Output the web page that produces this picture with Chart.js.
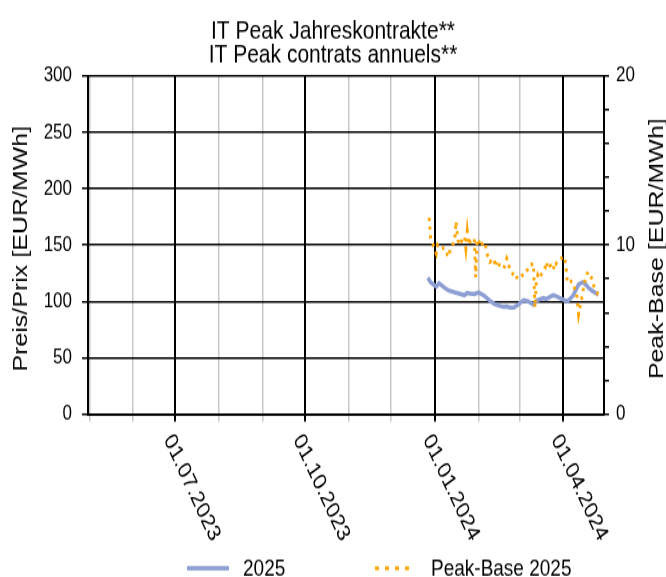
<!DOCTYPE html>
<html>
<head>
<meta charset="utf-8">
<script src="https://cdn.jsdelivr.net/npm/chart.js"></script>
<style>
  html, body { margin: 0; background: #fff; width: 666px; height: 577px; }
  #page { width: 666px; height: 577px; position: relative; }
  /* the reference is stretched vertically, so the chart is drawn at 666x462 and scaled */
  #chartContainer { position: absolute; left: 0; top: 0; width: 666px; height: 462px; transform: scaleY(1.2489); transform-origin: 0 0; }
</style>
</head>
<body>
<div id="page"><div id="chartContainer"><canvas id="myChart"></canvas></div></div>
<script>
const FONT = '"Liberation Sans", Arial, sans-serif';

const chartTitle = ['IT Peak Jahreskontrakte**', 'IT Peak contrats annuels**'];
const yTitleLeft = 'Preis/Prix [EUR/MWh]';
const yTitleRight = 'Peak-Base [EUR/MWh]';

// x axis range and monthly ticks
const xMin = '2023-04-30';
const xMax = '2024-04-30';
const xTickDates = ['2023-05-01','2023-06-01','2023-07-01','2023-08-01','2023-09-01','2023-10-01',
  '2023-11-01','2023-12-01','2024-01-01','2024-02-01','2024-03-01','2024-04-01'];
const xTickLabels = ['01.07.2023', '01.10.2023', '01.01.2024', '01.04.2024'];

// series "2025" (left axis)
const priceDates = ['2023-12-27','2023-12-29','2024-01-02','2024-01-04','2024-01-08','2024-01-11','2024-01-15',
  '2024-01-18','2024-01-22','2024-01-24','2024-01-26','2024-01-29','2024-02-01','2024-02-05','2024-02-07',
  '2024-02-09','2024-02-12','2024-02-14','2024-02-16','2024-02-19','2024-02-21','2024-02-23','2024-02-26',
  '2024-02-29','2024-03-04','2024-03-07','2024-03-11','2024-03-13','2024-03-15','2024-03-18','2024-03-20',
  '2024-03-22','2024-03-25','2024-03-27','2024-04-02','2024-04-04','2024-04-08','2024-04-10','2024-04-12',
  '2024-04-15','2024-04-17','2024-04-19','2024-04-22','2024-04-24','2024-04-26'];
const price2025 = [121, 117, 113, 116, 112, 109.5, 108,
  107, 105.5, 107.5, 107, 106.5, 108, 105, 103,
  100.5, 98, 97, 96, 95, 95.5, 94.5, 94.5,
  97, 101, 100, 97, 100.5, 101.5, 103, 102,
  103.5, 105.5, 104.5, 101, 100, 105, 110, 115,
  117, 115, 112, 109, 107.5, 106];

// series "Peak-Base 2025" (right axis)
const spreadDates = ['2023-12-28','2023-12-29','2024-01-02','2024-01-03','2024-01-04','2024-01-05',
  '2024-01-08','2024-01-09','2024-01-10','2024-01-11','2024-01-12','2024-01-15','2024-01-16','2024-01-17',
  '2024-01-18','2024-01-19','2024-01-22','2024-01-23','2024-01-24','2024-01-25','2024-01-26','2024-01-29',
  '2024-01-30','2024-01-31','2024-02-01','2024-02-02','2024-02-05','2024-02-06','2024-02-07','2024-02-08',
  '2024-02-09','2024-02-12','2024-02-13','2024-02-14','2024-02-15','2024-02-16','2024-02-19','2024-02-20',
  '2024-02-21','2024-02-22','2024-02-23','2024-02-26','2024-02-27','2024-02-28','2024-02-29','2024-03-01',
  '2024-03-04','2024-03-05','2024-03-06','2024-03-07','2024-03-08','2024-03-11','2024-03-12','2024-03-13',
  '2024-03-14','2024-03-15','2024-03-18','2024-03-19','2024-03-20','2024-03-21','2024-03-22','2024-03-25',
  '2024-03-26','2024-03-27','2024-03-28','2024-04-02','2024-04-03','2024-04-04','2024-04-05','2024-04-08',
  '2024-04-09','2024-04-10','2024-04-11','2024-04-12','2024-04-15','2024-04-16','2024-04-17','2024-04-18',
  '2024-04-19','2024-04-22','2024-04-23','2024-04-24','2024-04-25','2024-04-26'];
const spread2025 = [11.6, 10.4, 9.5, 10.0, 9.9, 9.8,
  9.8, 9.7, 9.4, 9.3, 9.8, 10.2, 11.4, 10.6,
  10.0, 10.1, 10.5, 9.8, 10.8, 10.0, 10.2, 10.4,
  8.1, 10.3, 10.35, 9.9, 10.2, 10.0, 9.5, 9.2,
  9.0, 9.2, 8.7, 9.1, 9.0, 8.8, 8.6, 8.9,
  9.2, 9.0, 8.6, 8.2, 8.3, 8.1, 8.0, 8.0,
  8.3, 8.4, 8.4, 8.6, 8.8, 8.9, 6.3, 7.8,
  8.2, 8.0, 8.5, 8.6, 9.0, 8.7, 8.9, 8.5,
  9.0, 8.9, 9.1, 9.3, 8.7, 7.8, 7.9, 7.8,
  7.5, 7.1, 6.9, 5.9, 7.2, 7.8, 7.9, 8.3,
  8.4, 7.9, 7.5, 7.3, 7.2, 7.0];

// days since 01.01.2023
function dayNum(s) {
  const p = s.split('-');
  return (Date.UTC(+p[0], +p[1] - 1, +p[2]) - Date.UTC(2023, 0, 1)) / 86400000;
}
function dayNumDE(s) {
  const p = s.split('.');
  return dayNum(p[2] + '-' + p[1] + '-' + p[0]);
}
function isQuarter(v) {
  const d = new Date(Date.UTC(2023, 0, 1) + v * 86400000);
  return d.getUTCMonth() % 3 === 0;
}

const GRAY = '#c8c8c8';

// rotated date labels, axis titles and legend
const extras = {
  id: 'extras',
  afterDraw(chart) {
    const ctx = chart.ctx;
    const area = chart.chartArea;
    const xs = chart.scales.x;
    ctx.save();
    ctx.fillStyle = '#000';

    ctx.font = '19px ' + FONT;
    ctx.textAlign = 'left';
    ctx.textBaseline = 'middle';
    xTickLabels.forEach(lab => {
      const px = xs.getPixelForValue(dayNumDE(lab));
      ctx.save();
      ctx.translate(px - 7.5, area.bottom + 18);
      ctx.rotate(Math.PI / 3);
      ctx.fillText(lab, 0, 0);
      ctx.restore();
    });

    ctx.font = '20px ' + FONT;
    ctx.textAlign = 'center';
    const midY = (area.top + area.bottom) / 2 + 3;
    [[21, yTitleLeft], [657, yTitleRight]].forEach(t => {
      ctx.save();
      ctx.translate(t[0], midY);
      ctx.rotate(-Math.PI / 2);
      ctx.fillText(t[1], 0, 0);
      ctx.restore();
    });

    // legend
    const legY = 455;
    const legPos = [[187, 229, 243], [375, 415, 431]];
    const legDash = [[], [4, 6]];
    ctx.font = '19px ' + FONT;
    ctx.textAlign = 'left';
    chart.data.datasets.forEach((ds, i) => {
      const p = legPos[i];
      ctx.beginPath();
      ctx.setLineDash(legDash[i]);
      ctx.strokeStyle = ds.borderColor;
      ctx.lineWidth = ds.borderWidth;
      ctx.moveTo(p[0], legY);
      ctx.lineTo(p[1], legY);
      ctx.stroke();
      ctx.setLineDash([]);
      ctx.fillText(ds.label, p[2], legY + 1);
    });
    ctx.restore();
  }
};

const ctx = document.getElementById('myChart').getContext('2d');
const myChart = new Chart(ctx, {
  type: 'line',
  data: {
    datasets: [{
      label: '2025',
      data: priceDates.map((d, i) => ({ x: dayNum(d), y: price2025[i] })),
      yAxisID: 'y',
      borderColor: '#8d9fd3',
      borderWidth: 3.5,
      pointRadius: 0,
      tension: 0,
      order: 1
    }, {
      label: 'Peak-Base 2025',
      data: spreadDates.map((d, i) => ({ x: dayNum(d), y: spread2025[i] })),
      yAxisID: 'y2',
      borderColor: '#ffa500',
      borderWidth: 3,
      borderDash: [2.5, 4.5],
      pointRadius: 0,
      tension: 0,
      order: 0
    }]
  },
  options: {
    responsive: true,
    maintainAspectRatio: false,
    animation: false,
    layout: { padding: 0 },
    plugins: {
      legend: { display: false },
      tooltip: { enabled: false },
      title: {
        display: true,
        text: chartTitle,
        color: '#000',
        font: { family: FONT, size: 21, weight: 'normal', lineHeight: 0.9 },
        padding: { top: 16, bottom: 7 }
      }
    },
    scales: {
      x: {
        type: 'linear',
        min: dayNum(xMin),
        max: dayNum(xMax),
        afterBuildTicks: scale => {
          scale.ticks = xTickDates.map(d => ({ value: dayNum(d) }));
        },
        afterFit: scale => { scale.height = 130.5; },
        ticks: { display: false },
        grid: {
          color: c => (c.tick && isQuarter(c.tick.value)) ? '#000' : GRAY,
          lineWidth: c => (c.tick && isQuarter(c.tick.value)) ? 2 : 1.5,
          tickLength: 6
        },
        border: { color: '#000', width: 2 }
      },
      y: {
        position: 'left',
        min: 0,
        max: 300,
        afterFit: scale => { scale.width = 88; },
        ticks: {
          stepSize: 25,
          color: '#000',
          padding: 10,
          font: { family: FONT, size: 17 },
          callback: v => v % 50 === 0 ? v : ''
        },
        grid: {
          color: c => (c.tick && c.tick.value % 50 === 0) ? '#000' : GRAY,
          lineWidth: 1.5,
          tickColor: '#000',
          tickLength: 6
        },
        border: { color: '#000', width: 2 }
      },
      y2: {
        position: 'right',
        min: 0,
        max: 20,
        afterFit: scale => { scale.width = 62; },
        ticks: {
          stepSize: 2,
          color: '#000',
          padding: 7,
          font: { family: FONT, size: 17 },
          callback: v => v % 10 === 0 ? v : ''
        },
        grid: {
          drawOnChartArea: false,
          color: '#000',
          lineWidth: 1.5,
          tickLength: 5
        },
        border: { color: '#000', width: 2 }
      }
    }
  },
  plugins: [extras]
});
</script>
</body>
</html>
